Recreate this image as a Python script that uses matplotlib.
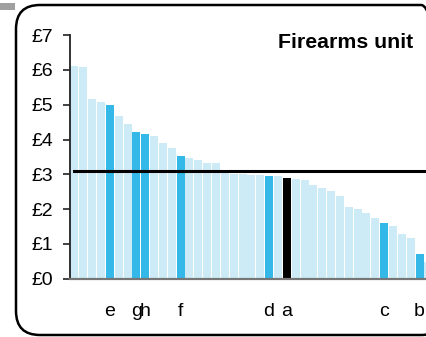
import matplotlib
matplotlib.use("Agg")
import matplotlib.pyplot as plt
from matplotlib.patches import FancyBboxPatch, Rectangle
from matplotlib.transforms import IdentityTransform

plt.rcParams['font.family'] = ['Liberation Sans', 'DejaVu Sans']

values = [6.11, 6.09, 5.18, 5.08, 5.00, 4.68, 4.45, 4.22, 4.16, 4.10,
          3.90, 3.76, 3.53, 3.47, 3.41, 3.33, 3.33, 3.12, 3.01, 3.01,
          2.98, 2.98, 2.95, 2.95, 2.90, 2.87, 2.84, 2.70, 2.61, 2.52,
          2.38, 2.06, 2.01, 1.89, 1.75, 1.60, 1.52, 1.29, 1.17, 0.71, 0.48]
highlight = {4: 'e', 7: 'g', 8: 'h', 12: 'f', 22: 'd', 35: 'c', 39: 'b'}
selected = {24: 'a'}
average = 3.11
yticks = [0, 1, 2, 3, 4, 5, 6, 7]
ytick_labels = ['£0', '£1', '£2', '£3', '£4', '£5', '£6', '£7']
title = 'Firearms unit'

W, H = 427, 337
fig = plt.figure(figsize=(W / 100, H / 100), dpi=100)
left_px, right_px = 70, 70 + 41 * 8.85
top_px, bottom_px = 35.2, 278.8
ax = fig.add_axes([left_px / W, (H - bottom_px) / H, (right_px - left_px) / W, (bottom_px - top_px) / H])

light = '#cdebf7'
dark = '#33b8e8'
colors = []
for i in range(len(values)):
    if i in selected:
        colors.append('#000000')
    elif i in highlight:
        colors.append(dark)
    else:
        colors.append(light)
xs = list(range(len(values)))
ax.bar(xs, values, width=0.9, color=colors, linewidth=0, zorder=2)
ax.plot([-0.05, len(values) + 1], [average, average], color='black', lw=2.2, zorder=3, clip_on=False)

ax.set_xlim(-0.5, len(values) - 0.5)
ax.set_ylim(0, 7)
ax.set_yticks(yticks)
ax.set_yticklabels(ytick_labels, fontsize=14)
ax.tick_params(axis='y', length=5, width=1.2, pad=7, color='#222222')
ax.set_xticks([])
for s in ['top', 'right']:
    ax.spines[s].set_visible(False)
ax.spines['left'].set_linewidth(1.3)
ax.spines['left'].set_color('#222222')
ax.spines['bottom'].set_linewidth(1.6)
ax.spines['bottom'].set_color('#777777')

labels = dict(highlight)
labels.update(selected)
tr = ax.get_xaxis_transform()
for i, lab in labels.items():
    ax.text(i, -0.154, lab, transform=tr, ha='center', va='baseline', fontsize=14)

fig.text(345.5 / W, (H - 48) / H, title, ha='center', va='baseline', fontsize=15.3, fontweight='bold')

border = FancyBboxPatch((16, 2), 429, 330, boxstyle='round,pad=0,rounding_size=24',
                        transform=IdentityTransform(), fill=False, edgecolor='black', lw=1.8)
fig.add_artist(border)
fig.add_artist(Rectangle((0, H - 9.5), 15, 6.5, transform=IdentityTransform(),
                         facecolor='#a0a0a0', edgecolor='none'))

fig.savefig('out.png', dpi=100)
